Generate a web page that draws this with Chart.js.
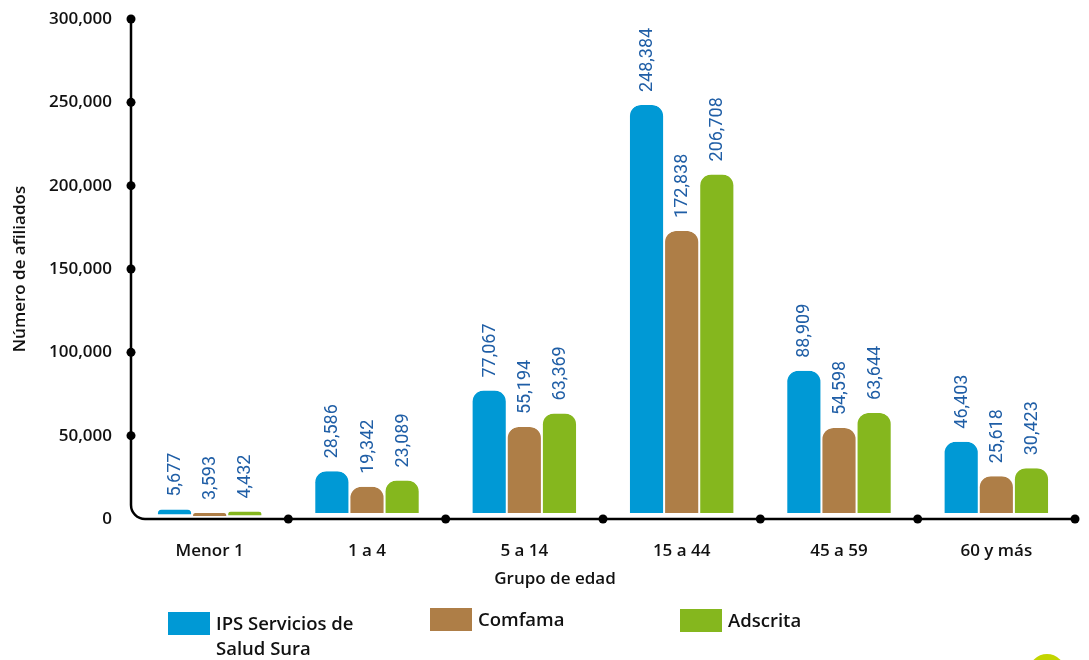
<!DOCTYPE html>
<html>
<head>
<meta charset="utf-8">
<script src="https://cdn.jsdelivr.net/npm/chart.js@4/dist/chart.umd.min.js"></script>
<style>
  html, body { margin: 0; padding: 0; background: #fff; }
  #wrap { position: relative; width: 1089px; height: 660px; overflow: hidden; }
  #chart { position: absolute; left: 0; top: 0; }
  .legend-item { position: absolute; font: 600 18.5px "Open Sans", sans-serif; color: #111; line-height: 25px; }
  .legend-box { position: absolute; width: 42px; height: 23px; }
  .legend-text { position: absolute; white-space: nowrap; }
  #blob { position: absolute; left: 1029px; top: 654px; width: 36px; height: 36px; border-radius: 50%; background: #c3d500; }
</style>
</head>
<body>
<div id="wrap">
  <canvas id="chart" width="1089" height="660"></canvas>
  <div id="legend"></div>
  <div id="blob"></div>
</div>
<script>
const categories = ['Menor 1', '1 a 4', '5 a 14', '15 a 44', '45 a 59', '60 y más'];
const ipsSura = [5677, 28586, 77067, 248384, 88909, 46403];
const comfama = [3593, 19342, 55194, 172838, 54598, 25618];
const adscrita = [4432, 23089, 63369, 206708, 63644, 30423];
const yTicks = [0, 50000, 100000, 150000, 200000, 250000, 300000];

const seriesNames = ['IPS Servicios de\nSalud Sura', 'Comfama', 'Adscrita'];
const seriesColors = ['#0099d5', '#ae7e47', '#85b71e'];
const labelColor = '#1f5ea6';
const xTitle = 'Grupo de edad';

const fmt = v => v.toLocaleString('en-US');
const textFont = { family: 'Open Sans', size: 17, weight: '600' };

// axis line with rounded corner plus dots at ticks / category borders
const axisPlugin = {
  id: 'axisDots',
  afterDatasetsDraw(chart) {
    const { ctx, chartArea: a, scales: { x, y } } = chart;
    const y0 = y.getPixelForValue(0);
    const r = 14;
    ctx.save();
    ctx.strokeStyle = '#000';
    ctx.lineWidth = 2.5;
    ctx.beginPath();
    ctx.moveTo(a.left, y.getPixelForValue(300000));
    ctx.lineTo(a.left, y0 - r);
    ctx.arcTo(a.left, y0, a.left + r, y0, r);
    ctx.lineTo(a.right, y0);
    ctx.stroke();
    ctx.fillStyle = '#000';
    yTicks.slice(1).forEach(t => {
      ctx.beginPath();
      ctx.arc(a.left, y.getPixelForValue(t), 4.5, 0, Math.PI * 2);
      ctx.fill();
    });
    categories.forEach((c, i) => {
      ctx.beginPath();
      ctx.arc(x.getPixelForValue(i + 0.5), y0, 4.5, 0, Math.PI * 2);
      ctx.fill();
    });
    // x title sits a bit left of centre in the original
    ctx.font = '600 17px "Open Sans", sans-serif';
    ctx.textAlign = 'center';
    ctx.textBaseline = 'middle';
    ctx.fillStyle = '#111';
    ctx.fillText(xTitle, x.getPixelForValue(2.5) - 48, y0 + 60);
    ctx.restore();
  }
};

// vertical value labels above bars
const valuePlugin = {
  id: 'valueLabels',
  afterDatasetsDraw(chart) {
    const { ctx } = chart;
    ctx.save();
    ctx.font = '400 18px Roboto, sans-serif';
    ctx.fillStyle = labelColor;
    ctx.textAlign = 'left';
    ctx.textBaseline = 'middle';
    chart.data.datasets.forEach((ds, di) => {
      chart.getDatasetMeta(di).data.forEach((bar, i) => {
        ctx.save();
        ctx.translate(bar.x + 1, bar.y - 13);
        ctx.rotate(-Math.PI / 2);
        ctx.fillText(fmt(ds.data[i]), 0, 0);
        ctx.restore();
      });
    });
    ctx.restore();
  }
};

const datasets = [ipsSura, comfama, adscrita].map((data, i) => ({
  label: seriesNames[i],
  data,
  backgroundColor: seriesColors[i],
  borderColor: '#fff',
  borderWidth: { left: 1, right: 1, top: 0, bottom: 6 },
  borderSkipped: false,
  borderRadius: { topLeft: 12, topRight: 12, bottomLeft: 0, bottomRight: 0 },
  barPercentage: 1,
  categoryPercentage: 0.67
}));

new Chart(document.getElementById('chart'), {
  type: 'bar',
  data: { labels: categories, datasets },
  options: {
    responsive: false,
    animation: false,
    layout: { autoPadding: false, padding: { left: 0, top: 19, right: 14, bottom: 71 } },
    plugins: { legend: { display: false }, tooltip: { enabled: false } },
    scales: {
      x: {
        grid: { display: false, drawTicks: false },
        border: { display: false },
        ticks: { color: '#111', font: textFont, padding: 22 },
        afterFit(s) { s.height = 70; s.paddingLeft = 0; s.paddingRight = 0; }
      },
      y: {
        min: 0,
        max: 300000,
        grid: { display: false, drawTicks: false },
        border: { display: false },
        afterBuildTicks(s) { s.ticks = yTicks.map(v => ({ value: v })); },
        ticks: { color: '#111', font: textFont, padding: 19, callback: v => fmt(v) },
        title: { display: true, text: 'Número de afiliados', color: '#111',
          font: textFont, padding: { top: 10, bottom: 0 } },
        afterFit(s) { s.width = 131; s.paddingTop = 0; s.paddingBottom = 0; }
      }
    }
  },
  plugins: [valuePlugin, axisPlugin]
});

// legend as html, built from series arrays
const legendSpots = [[168, 612], [430, 608], [680, 609]];
const legend = document.getElementById('legend');
seriesNames.forEach((name, i) => {
  const [lx, ly] = legendSpots[i];
  const box = document.createElement('div');
  box.className = 'legend-box';
  box.style.left = lx + 'px';
  box.style.top = ly + 'px';
  box.style.background = seriesColors[i];
  legend.appendChild(box);
  const txt = document.createElement('div');
  txt.className = 'legend-item legend-text';
  txt.style.left = (lx + 48) + 'px';
  txt.style.top = (ly - 2) + 'px';
  txt.innerHTML = name.split('\n').join('<br>');
  legend.appendChild(txt);
});
</script>
</body>
</html>
